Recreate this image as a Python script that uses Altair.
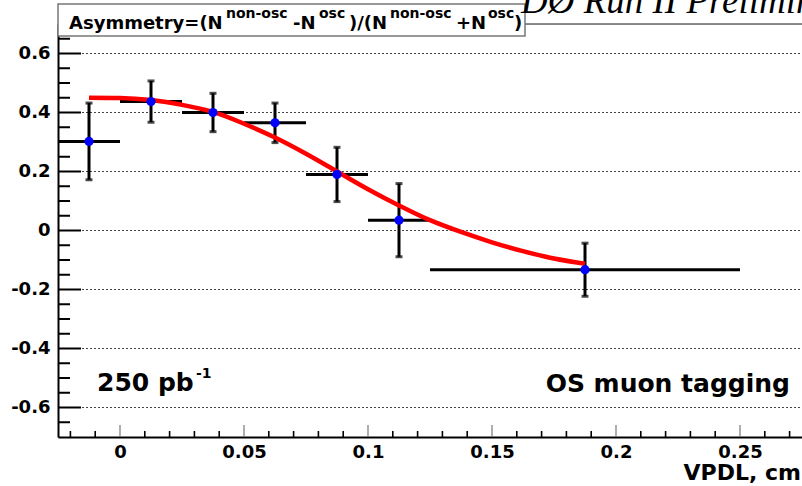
import altair as alt
import pandas as pd

# Measured asymmetry per VPDL bin
bin_lo = [-0.025, 0.0, 0.025, 0.05, 0.075, 0.1, 0.125]
bin_hi = [0.0, 0.025, 0.05, 0.075, 0.1, 0.125, 0.25]
vpdl = [-0.0125, 0.0125, 0.0375, 0.0625, 0.0875, 0.1125, 0.1875]
asym = [0.302, 0.437, 0.400, 0.365, 0.190, 0.035, -0.133]
asym_err = [0.130, 0.070, 0.065, 0.067, 0.092, 0.124, 0.090]

# Fitted curve, sampled along VPDL
fit_x = [-0.0125, 0.0, 0.0125, 0.025, 0.0375, 0.05, 0.0625, 0.075, 0.0875,
         0.1, 0.1125, 0.125, 0.1375, 0.15, 0.1625, 0.175, 0.1875]
fit_y = [0.450, 0.449, 0.442, 0.426, 0.402, 0.362, 0.315, 0.260, 0.200,
         0.140, 0.085, 0.035, -0.005, -0.040, -0.070, -0.095, -0.113]

# Axis ticks
x_major = [0.0, 0.05, 0.1, 0.15, 0.2, 0.25]
x_minor = [-0.02, -0.01, 0.01, 0.02, 0.03, 0.04, 0.06, 0.07, 0.08, 0.09,
           0.11, 0.12, 0.13, 0.14, 0.16, 0.17, 0.18, 0.19, 0.21, 0.22,
           0.23, 0.24, 0.26, 0.27]
y_major = [-0.6, -0.4, -0.2, 0.0, 0.2, 0.4, 0.6]
y_minor = [-0.65, -0.55, -0.5, -0.45, -0.35, -0.3, -0.25, -0.15, -0.1,
           -0.05, 0.05, 0.1, 0.15, 0.25, 0.3, 0.35, 0.45, 0.5, 0.55, 0.65]

W, H = 744, 413
OX, OY = 58, 24
FONT = "DejaVu Sans"

xs = alt.Scale(domain=[-0.025, 0.275], nice=False, zero=False)
ys = alt.Scale(domain=[-0.7, 0.7], nice=False, zero=False)

x_axis = alt.Axis(
    values=x_major, labelExpr="datum.value + ''", ticks=False, tickSize=0,
    grid=False, title=None, domainColor="black", domainWidth=2,
    labelFont=FONT, labelFontSize=18, labelFontWeight="bold",
    labelColor="black", labelPadding=6, labelOverlap=False, labelFlush=False)
y_axis = alt.Axis(
    values=y_major, labelExpr="datum.value + ''", ticks=False, tickSize=0,
    grid=False, title=None, domainColor="black", domainWidth=2,
    labelFont=FONT, labelFontSize=18, labelFontWeight="bold",
    labelColor="black", labelPadding=8, labelOverlap=False, labelFlush=False)


def X(field):
    return alt.X(field, scale=xs, axis=x_axis, title=None)


def Y(field):
    return alt.Y(field, scale=ys, axis=y_axis, title=None)


pts = pd.DataFrame({
    "vpdl": vpdl, "asym": asym, "lo": bin_lo, "hi": bin_hi,
    "ylo": [a - e for a, e in zip(asym, asym_err)],
    "yhi": [a + e for a, e in zip(asym, asym_err)],
})
fit = pd.DataFrame({"vpdl": fit_x, "asym": fit_y})
one = alt.Data(values=[{}])

# Dotted horizontal grid at the major y ticks
grid = alt.Chart(pd.DataFrame({"v": y_major})).mark_rule(
    strokeDash=[2, 2], color="#444", strokeWidth=1.1
).encode(y=Y("v:Q"), x=alt.value(0), x2=alt.value(W))

# Inward-pointing ticks
xmaj = alt.Chart(pd.DataFrame({"v": x_major})).mark_rule(
    color="#777", strokeWidth=1.2
).encode(x=X("v:Q"), y=alt.value(H), y2=alt.value(H - 12))
xmin = alt.Chart(pd.DataFrame({"v": x_minor})).mark_rule(
    color="black", strokeWidth=1.6
).encode(x=X("v:Q"), y=alt.value(H), y2=alt.value(H - 6))
ymaj = alt.Chart(pd.DataFrame({"v": y_major})).mark_rule(
    color="black", strokeWidth=2
).encode(y=Y("v:Q"), x=alt.value(0), x2=alt.value(23))
ymin = alt.Chart(pd.DataFrame({"v": y_minor})).mark_rule(
    color="black", strokeWidth=2
).encode(y=Y("v:Q"), x=alt.value(0), x2=alt.value(12))

frame_top = alt.Chart(one).mark_rule(color="#666", strokeWidth=1.5).encode(
    x=alt.value(0), x2=alt.value(W), y=alt.value(0))

base = alt.Chart(pts)
xbar = base.mark_rule(color="black", strokeWidth=3).encode(
    x=X("lo:Q"), x2="hi:Q", y=Y("asym:Q"))
ybar = base.mark_rule(color="black", strokeWidth=3).encode(
    x=X("vpdl:Q"), y=Y("ylo:Q"), y2="yhi:Q")
cap_hi = base.mark_tick(color="black", orient="horizontal", size=7,
                        thickness=3).encode(x=X("vpdl:Q"), y=Y("yhi:Q"))
cap_lo = base.mark_tick(color="black", orient="horizontal", size=7,
                        thickness=3).encode(x=X("vpdl:Q"), y=Y("ylo:Q"))

curve = alt.Chart(fit).mark_line(
    color="#ff0000", strokeWidth=4.5, interpolate="monotone"
).encode(x=X("vpdl:Q"), y=Y("asym:Q"))

dots = base.mark_circle(color="#0000ff", size=85, opacity=1).encode(
    x=X("vpdl:Q"), y=Y("asym:Q"))

# Title box with superscripted formula
title_box = alt.Chart(one).mark_rect(
    fill="white", stroke="#777", strokeWidth=1.5
).encode(x=alt.value(0), x2=alt.value(467), y=alt.value(-20), y2=alt.value(12))


def label(txt, px, py, size, weight="bold", font=FONT, style="normal",
          align="left"):
    return alt.Chart(one).mark_text(
        text=txt, font=font, fontSize=size, fontWeight=weight,
        fontStyle=style, align=align, baseline="alphabetic", color="black"
    ).encode(x=alt.value(px - OX), y=alt.value(py - OY))


title_parts = [
    ("Asymmetry=(N", 69, 29, 18),
    ("non-osc", 226, 18, 14),
    ("-N", 293, 29, 18),
    ("osc", 319, 18, 14),
    (")/(N", 349, 29, 18),
    ("non-osc", 390, 18, 14),
    ("+N", 456, 29, 18),
    ("osc", 488, 18, 14),
    (")", 514, 29, 18),
]
texts = [label(t, x, y, s) for t, x, y, s in title_parts]
texts += [
    label("D\u00d8 Run II Preliminary", 521, 13, 37,
          weight="normal", font="Liberation Serif", style="italic"),
    label("250 pb", 97, 391, 25),
    label("-1", 196, 378, 14),
    label("OS muon tagging", 790, 392, 25, align="right"),
    label("VPDL, cm", 801, 480, 22, align="right"),
]

chart = alt.layer(
    grid, xmaj, xmin, ymaj, ymin, frame_top,
    xbar, ybar, cap_hi, cap_lo, curve, dots,
    title_box, *texts
).properties(
    width=W, height=H,
    autosize=alt.AutoSizeParams(type="none"),
    padding={"left": OX, "top": OY, "right": 0, "bottom": 486 - OY - H},
).configure_view(stroke=None).configure(background="white")

chart.save("out.html", embed_options={"renderer": "svg", "actions": False})
